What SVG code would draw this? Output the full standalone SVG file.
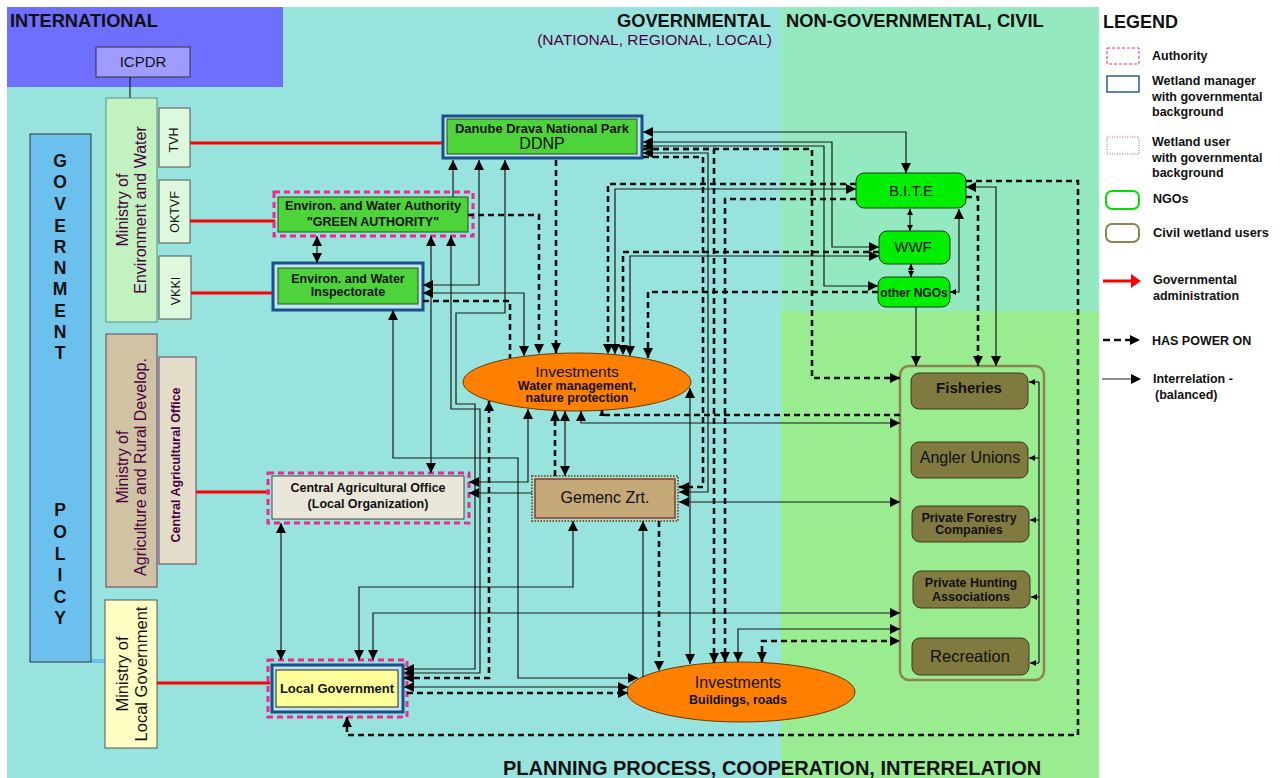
<svg xmlns="http://www.w3.org/2000/svg" width="1283" height="778" viewBox="0 0 1283 778">
<style>
text{font-family:"Liberation Sans",Arial,sans-serif;fill:#111}
.b{font-weight:bold}
.m{text-anchor:middle}
.pu{fill:#4B0042}
.s{fill:none;stroke:#1a1a1a;stroke-width:1.2}
.d{fill:none;stroke:#111;stroke-width:2.6;stroke-dasharray:6 4}
.e{marker-end:url(#a)}
.bo{marker-start:url(#a);marker-end:url(#a)}
.sa{marker-start:url(#a)}
.se{marker-end:url(#sm)}
.sb{marker-start:url(#sm);marker-end:url(#sm)}
.red{stroke:#F00;stroke-width:3}
.pink{fill:none;stroke:#F0288C;stroke-width:3;stroke-dasharray:6 4}
.blue{fill:#BFE6EE;stroke:#1A4F8A;stroke-width:3}
.grn{fill:#4DD43A;stroke:#2A4A2A;stroke-width:1}
.ngo{fill:#00EE00;stroke:#1a3a1a;stroke-width:1}
.civ{fill:#807A40;stroke:#3a3a1a;stroke-width:1}
.ell{fill:#FF8000;stroke:#6A3A00;stroke-width:1}
</style>
<defs>
<marker id="a" viewBox="0 0 10 10" refX="10" refY="5" markerWidth="11" markerHeight="10" markerUnits="userSpaceOnUse" orient="auto-start-reverse"><path d="M0,0L10,5L0,10z" fill="#000"/></marker>
<marker id="sm" viewBox="0 0 10 10" refX="10" refY="5" markerWidth="7" markerHeight="6" markerUnits="userSpaceOnUse" orient="auto-start-reverse"><path d="M0,0L10,5L0,10z" fill="#000"/></marker>
</defs>

<g id="background">
<rect x="0" y="0" width="1283" height="778" fill="#fff"/>
<rect x="7" y="7" width="774" height="771" fill="#99E3DF"/>
<rect x="781" y="7" width="318" height="304" fill="#94E9C1"/>
<rect x="781" y="311" width="318" height="467" fill="#9AEC91"/>
<rect x="7" y="7" width="276" height="80" fill="#6E6EFF"/>
<text x="10" y="27" class="b" font-size="18.3">INTERNATIONAL</text>
<text x="771" y="27" class="b" font-size="18.3" text-anchor="end">GOVERNMENTAL</text>
<text x="772" y="45" class="pu" font-size="15.5" text-anchor="end">(NATIONAL, REGIONAL, LOCAL)</text>
<text x="786" y="27" class="b" font-size="18.3">NON-GOVERNMENTAL, CIVIL</text>
<text x="503" y="775" class="b" font-size="20">PLANNING PROCESS, COOPERATION, INTERRELATION</text>
</g>

<g id="legend">
<text x="1103" y="28" class="b" font-size="18">LEGEND</text>
<rect x="1107" y="48" width="32" height="16" fill="#fff" stroke="#F0288C" stroke-width="1" stroke-dasharray="3 2"/>
<text x="1152" y="60" class="b" font-size="12.5">Authority</text>
<rect x="1107" y="76" width="32" height="16" fill="#fff" stroke="#2A5C96" stroke-width="1.5"/>
<text x="1152" y="85" class="b" font-size="12.5">Wetland manager</text>
<text x="1152" y="101" class="b" font-size="12.5">with governmental</text>
<text x="1152" y="116" class="b" font-size="12.5">background</text>
<rect x="1107" y="137" width="32" height="17" fill="#fff" stroke="#A0704A" stroke-width="1" stroke-dasharray="1 1.5"/>
<text x="1152" y="146" class="b" font-size="12.5">Wetland user</text>
<text x="1152" y="162" class="b" font-size="12.5">with governmental</text>
<text x="1152" y="177" class="b" font-size="12.5">background</text>
<rect x="1106" y="191" width="33" height="18" rx="6" fill="#fff" stroke="#00E000" stroke-width="2"/>
<text x="1153" y="203" class="b" font-size="12.5">NGOs</text>
<rect x="1106" y="224" width="33" height="18" rx="6" fill="#fff" stroke="#8A8450" stroke-width="2"/>
<text x="1153" y="237" class="b" font-size="12.8">Civil wetland users</text>
<line x1="1103" y1="281" x2="1132" y2="281" stroke="#F00" stroke-width="3"/>
<polygon points="1131,274 1141,281 1131,288" fill="#F00"/>
<text x="1153" y="284" class="b" font-size="12.5">Governmental</text>
<text x="1153" y="300" class="b" font-size="12.5">administration</text>
<line x1="1103" y1="340" x2="1131" y2="340" stroke="#111" stroke-width="2.6" stroke-dasharray="7 4"/>
<polygon points="1130,335 1140,340 1130,345" fill="#000"/>
<text x="1152" y="345" class="b" font-size="12.5">HAS POWER ON</text>
<line x1="1102" y1="379" x2="1132" y2="379" stroke="#555" stroke-width="1.3"/>
<polygon points="1131,374 1141,379 1131,384" fill="#000"/>
<text x="1153" y="383" class="b" font-size="12.5">Interrelation -</text>
<text x="1155" y="399" class="b" font-size="12.5">(balanced)</text>
</g>

<g id="admin-lines">
<line x1="130" y1="77" x2="130" y2="98" stroke="#222" stroke-width="1.2"/>
<line x1="91" y1="661" x2="105" y2="661" stroke="#6CC0EE" stroke-width="4"/>
<line class="red" x1="190" y1="143" x2="443" y2="143"/>
<line class="red" x1="190" y1="221" x2="275" y2="221"/>
<line class="red" x1="191" y1="293" x2="274" y2="293"/>
<line class="red" x1="196" y1="492" x2="270" y2="492"/>
<line class="red" x1="157" y1="683" x2="270" y2="683"/>
</g>

<g id="icpdr">
<rect x="96" y="47" width="94" height="30" fill="#A09CFF" stroke="#333" stroke-width="1"/>
<text x="143" y="67" class="m" font-size="15">ICPDR</text>
</g>

<g id="government-policy">
<rect x="30" y="134" width="61" height="528" fill="#6CC0EE" stroke="#333" stroke-width="1"/>
<g font-size="17.5">
<text x="60" y="167" class="b m">G</text><text x="60" y="188" class="b m">O</text><text x="60" y="210" class="b m">V</text><text x="60" y="232" class="b m">E</text><text x="60" y="253" class="b m">R</text><text x="60" y="274" class="b m">N</text><text x="60" y="295" class="b m">M</text><text x="60" y="317" class="b m">E</text><text x="60" y="338" class="b m">N</text><text x="60" y="359" class="b m">T</text>
<text x="60" y="516" class="b m">P</text><text x="60" y="538" class="b m">O</text><text x="60" y="560" class="b m">L</text><text x="60" y="581" class="b m">I</text><text x="60" y="603" class="b m">C</text><text x="60" y="624" class="b m">Y</text>
</g>
</g>

<g id="ministry-env">
<rect x="106" y="98" width="51" height="224" fill="#C2F2C0" stroke="#5E8E86" stroke-width="1"/>
<text transform="translate(128,210) rotate(-90)" class="m pu" font-size="16">Ministry of</text>
<text transform="translate(146,210) rotate(-90)" class="m pu" font-size="16">Environment and Water</text>
</g>
<g id="tvh">
<rect x="159" y="108" width="31" height="59" fill="#DDF8DC" stroke="#555" stroke-width="1"/>
<text transform="translate(178,140) rotate(-90)" class="m" font-size="12.5">TVH</text>
</g>
<g id="oktvf">
<rect x="159" y="180" width="31" height="63" fill="#DDF8DC" stroke="#555" stroke-width="1"/>
<text transform="translate(179,212) rotate(-90)" class="m" font-size="12.5">OKTVF</text>
</g>
<g id="vkki">
<rect x="159" y="256" width="32" height="63" fill="#DDF8DC" stroke="#555" stroke-width="1"/>
<text transform="translate(180,291) rotate(-90)" class="m" font-size="12.5">VKKI</text>
</g>

<g id="ministry-agri">
<rect x="106" y="334" width="51" height="253" fill="#CFC3A3" stroke="#6A3A6A" stroke-width="1"/>
<text transform="translate(128,467) rotate(-90)" class="m pu" font-size="16">Ministry of</text>
<text transform="translate(146,467) rotate(-90)" class="m pu" font-size="16">Agriculture and Rural Develop.</text>
</g>
<g id="central-agri-side">
<rect x="159" y="357" width="37" height="207" fill="#E2DCC8" stroke="#6A3A6A" stroke-width="1"/>
<text transform="translate(180,465) rotate(-90)" class="m b pu" font-size="12.5">Central Agricultural Office</text>
</g>

<g id="ministry-local">
<rect x="105" y="600" width="52" height="148" fill="#FFFFC4" stroke="#555" stroke-width="1"/>
<text transform="translate(128,674) rotate(-90)" class="m" font-size="16.5">Ministry of</text>
<text transform="translate(147,674) rotate(-90)" class="m" font-size="16.5">Local Government</text>
</g>

<g id="ddnp">
<rect x="443" y="116" width="199" height="42" class="blue"/>
<rect x="447" y="119" width="190" height="35" class="grn"/>
<text x="542" y="133" class="b m" font-size="13">Danube Drava National Park</text>
<text x="542" y="149" class="m" font-size="16">DDNP</text>
</g>

<g id="green-authority">
<rect x="274" y="192" width="199" height="44" class="pink"/>
<rect x="278" y="197" width="190" height="35" class="grn"/>
<text x="373" y="210" class="b m" font-size="12.8">Environ. and Water Authority</text>
<text x="373" y="226" class="b m" font-size="12.5">"GREEN AUTHORITY"</text>
</g>

<g id="inspectorate">
<rect x="273" y="263" width="150" height="47" class="blue"/>
<rect x="278" y="268" width="140" height="36" class="grn"/>
<text x="348" y="283" class="b m" font-size="12.5">Environ. and Water</text>
<text x="348" y="296" class="b m" font-size="12.5">Inspectorate</text>
</g>

<g id="central-agri-office">
<rect x="268" y="473" width="201" height="50" class="pink"/>
<rect x="272" y="476" width="192" height="43" fill="#EAE6DA" stroke="#444" stroke-width="1"/>
<text x="368" y="492" class="b m" font-size="12.5">Central Agricultural Office</text>
<text x="368" y="508" class="b m" font-size="12.5">(Local Organization)</text>
</g>

<g id="gemenc">
<rect x="532" y="476" width="146" height="45" fill="none" stroke="#8B5A2A" stroke-width="2" stroke-dasharray="1.5 1.5"/>
<rect x="535" y="479" width="140" height="39" fill="#C4A878" stroke="#8B3A2A" stroke-width="1.5"/>
<text x="605" y="503" class="m" font-size="16">Gemenc Zrt.</text>
</g>

<g id="local-government">
<rect x="268" y="660" width="139" height="57" class="pink"/>
<rect x="272" y="665" width="131" height="47" class="blue"/>
<rect x="276" y="670" width="122" height="37" fill="#FFFF99" stroke="#222" stroke-width="1"/>
<text x="337" y="693" class="b m" font-size="13">Local Government</text>
</g>

<g id="investments-water">
<ellipse cx="577" cy="382" rx="114" ry="29" class="ell"/>
<text x="577" y="377" class="m" font-size="15.5">Investments</text>
<text x="577" y="390" class="b m" font-size="12.5">Water management,</text>
<text x="577" y="402" class="b m" font-size="12.5">nature protection</text>
</g>

<g id="investments-buildings">
<ellipse cx="741" cy="692" rx="114" ry="30" class="ell"/>
<text x="738" y="688" class="m" font-size="16">Investments</text>
<text x="738" y="704" class="b m" font-size="12.5">Buildings, roads</text>
</g>

<g id="bite">
<rect x="856" y="173" width="110" height="35" rx="8" class="ngo"/>
<text x="911" y="196" class="m" font-size="15">B.I.T.E</text>
</g>
<g id="wwf">
<rect x="879" y="231" width="71" height="33" rx="8" class="ngo"/>
<text x="913" y="252" class="m" font-size="15">WWF</text>
</g>
<g id="other-ngos">
<rect x="878" y="277" width="72" height="30" rx="8" class="ngo"/>
<text x="914" y="297" class="b m" font-size="12">other NGOs</text>
</g>

<g id="civil-users">
<rect x="900" y="366" width="144" height="314" rx="9" fill="none" stroke="#8B8450" stroke-width="2.5"/>
</g>
<g id="fisheries">
<rect x="911" y="373" width="117" height="36" rx="8" class="civ"/>
<text x="969" y="393" class="b m" font-size="15">Fisheries</text>
</g>
<g id="angler-unions">
<rect x="911" y="442" width="117" height="36" rx="8" class="civ"/>
<text x="970" y="463" class="m" font-size="16">Angler Unions</text>
</g>
<g id="private-forestry">
<rect x="912" y="506" width="117" height="36" rx="8" class="civ"/>
<text x="969" y="522" class="b m" font-size="12.5">Private Forestry</text>
<text x="969" y="534" class="b m" font-size="12.5">Companies</text>
</g>
<g id="private-hunting">
<rect x="913" y="571" width="117" height="37" rx="8" class="civ"/>
<text x="971" y="587" class="b m" font-size="12.5">Private Hunting</text>
<text x="971" y="601" class="b m" font-size="12.5">Associations</text>
</g>
<g id="recreation">
<rect x="912" y="638" width="117" height="37" rx="8" class="civ"/>
<text x="970" y="662" class="m" font-size="16.5">Recreation</text>
</g>

<g id="connectors">
<path class="s e" d="M453,197 V160"/>
<path class="s bo" d="M423,285 H479 V160"/>
<path class="s bo" d="M505,160 V313 H456 V404 H475 V669 H404"/>
<path class="s bo" d="M451,236 V409 H480 V673 H404"/>
<path class="s bo" d="M431,236 V473"/>
<path class="s bo" d="M317,236 V263"/>
<path class="s bo" d="M393,310 V458 H518 V678 H638"/>
<path class="s bo" d="M423,293 H524 V356"/>
<path class="s bo" d="M281,523 V660"/>
<path class="s bo" d="M469,482 H528 V409"/>
<path class="s e" d="M532,493 H469"/>
<path class="s bo" d="M565,476 V411"/>
<path class="s bo" d="M573,521 V587 H359 V660"/>
<path class="s sa" d="M643,521 V677"/>
<path class="s bo" d="M679,502 H900"/>
<path class="s bo" d="M643,153 H708 V492 H679"/>
<path class="s bo" d="M643,132 H906 V173"/>
<path class="s bo" d="M643,142 H832 V247 H879"/>
<path class="s bo" d="M643,146 H824 V286 H878"/>
<path class="s bo" d="M856,189 H615 V354"/>
<path class="s bo" d="M879,256 H630 V356"/>
<path class="s bo" d="M581,411 V423 H900"/>
<path class="s bo" d="M690,388 V664"/>
<path class="s bo" d="M404,687 H628"/>
<path class="s bo" d="M373,660 V613 H900"/>
<path class="s bo" d="M738,662 V629 H900"/>
<path class="s e" d="M916,307 V366"/>
<path class="s bo" d="M966,187 H996 V366"/>
<path class="s" d="M950,292 H959 V209" marker-start="url(#sm)" marker-end="url(#a)"/>
<path class="s sb" d="M910,209 V231"/>
<path class="s sb" d="M911,264 V277"/>
<path class="s" d="M1039,382 V663"/>
<path class="s se" d="M1039,382 H1029"/>
<path class="s se" d="M1039,458 H1029"/>
<path class="s se" d="M1039,520 H1030"/>
<path class="s se" d="M1039,597 H1031"/>
<path class="s se" d="M1039,663 H1030"/>

<path class="d e" d="M556,160 V353"/>
<path class="d e" d="M468,215 H539 V354"/>
<path class="d" d="M423,301 H510 V358"/>
<path class="d e" d="M856,184 H608 V354"/>
<path class="d e" d="M879,252 H623 V355"/>
<path class="d e" d="M878,292 H648 V358"/>
<path class="d e" d="M643,157 H703 V487 H679"/>
<path class="d e" d="M643,149 H714 V663"/>
<path class="d e" d="M643,149 H812 V378 H900"/>
<path class="d e" d="M856,199 H725 V662"/>
<path class="d e" d="M966,197 H978 V366"/>
<path class="d e" d="M966,181 H1078 V735 H347 V717"/>
<path class="d se" d="M900,415 H602 V410"/>
<path class="d e" d="M555,476 V411"/>
<path class="d e" d="M659,521 V671"/>
<path class="d bo" d="M404,678 H489 V401"/>
<path class="d e" d="M407,693 H628"/>
<path class="d bo" d="M762,662 V641 H900"/>
</g>
</svg>
